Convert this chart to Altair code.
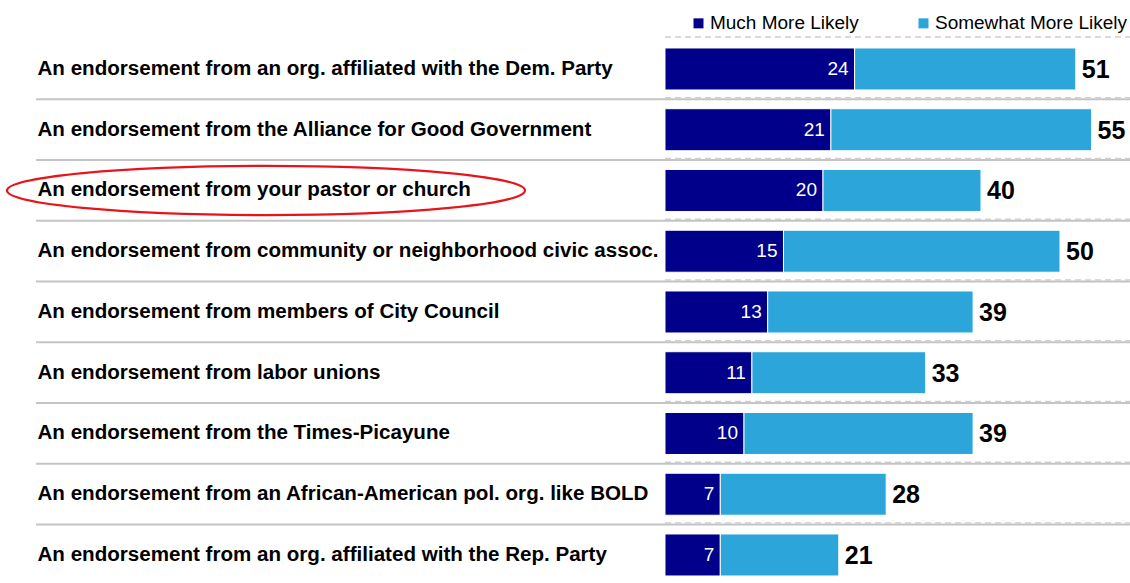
import altair as alt
import pandas as pd

categories = [
    "An endorsement from an org. affiliated with the Dem. Party",
    "An endorsement from the Alliance for Good Government",
    "An endorsement from your pastor or church",
    "An endorsement from community or neighborhood civic assoc.",
    "An endorsement from members of City Council",
    "An endorsement from labor unions",
    "An endorsement from the Times-Picayune",
    "An endorsement from an African-American pol. org. like BOLD",
    "An endorsement from an org. affiliated with the Rep. Party",
]
much = [24, 21, 20, 15, 13, 11, 10, 7, 7]
somewhat = [28, 33, 20, 35, 26, 22, 29, 21, 15]
totals = [51, 55, 40, 50, 39, 33, 39, 28, 21]
series = ["Much More Likely", "Somewhat More Likely"]
colors = ["#00008B", "#2CA5DB"]
highlight = ["An endorsement from your pastor or church"]

rows = []
for c, m, s in zip(categories, much, somewhat):
    rows.append(dict(cat=c, series=series[0], start=0, end=m))
    rows.append(dict(cat=c, series=series[1], start=m, end=m + s))
bars_df = pd.DataFrame(rows)
lab_df = pd.DataFrame(
    dict(
        cat=categories,
        much=much,
        barend=[m + s for m, s in zip(much, somewhat)],
        total=totals,
    )
)
sep_df = lab_df.iloc[:-1]
hl_df = pd.DataFrame(dict(cat=highlight))

W = 465
H = 546.75
STEP = H / len(categories)
PX_PER_UNIT = 7.9
FONT = "Liberation Sans"

yenc = alt.Y(
    "cat:N",
    sort=categories,
    scale=alt.Scale(paddingInner=0, paddingOuter=0),
    axis=alt.Axis(
        title=None,
        domain=False,
        ticks=False,
        grid=False,
        labelAlign="left",
        labelBaseline="middle",
        labelPadding=628,
        labelLimit=700,
        labelFontSize=20.6,
        labelFontWeight="bold",
        labelColor="#000000",
        labelFont=FONT,
    ),
)
xscale = alt.Scale(domain=[0, W / PX_PER_UNIT])

separators = alt.Chart(sep_df).mark_rule(
    color="#C4C4C4", strokeWidth=2, yOffset=STEP / 2
).encode(y=yenc, x=alt.value(-629), x2=alt.value(W))

dashed = alt.Chart(lab_df).mark_rule(
    color="#CFCFCF", strokeWidth=1.5, strokeDash=[6, 4], yOffset=-STEP / 2 - 1.5
).encode(y=yenc, x=alt.value(0), x2=alt.value(W))

bars = alt.Chart(bars_df).mark_bar(size=42, stroke="white", strokeWidth=1).encode(
    y=yenc,
    x=alt.X("start:Q", scale=xscale, axis=None),
    x2="end:Q",
    color=alt.Color(
        "series:N",
        scale=alt.Scale(domain=series, range=colors),
        legend=alt.Legend(
            title=None,
            orient="none",
            legendX=24,
            legendY=-25,
            direction="horizontal",
            symbolType="square",
            symbolSize=100,
            symbolStrokeWidth=0,
            labelFontSize=19,
            labelFont=FONT,
            labelColor="#000000",
            labelOffset=2,
            labelLimit=300,
            columnPadding=55,
        ),
    ),
    order=alt.Order("start:Q"),
)

inner = alt.Chart(lab_df).mark_text(
    align="right", baseline="middle", dx=-6, color="white", fontSize=19, font=FONT
).encode(y=yenc, x=alt.X("much:Q", scale=xscale, axis=None), text="much:Q")

tot = alt.Chart(lab_df).mark_text(
    align="left", baseline="middle", dx=6, dy=1, color="black", fontSize=25,
    fontWeight="bold", font=FONT
).encode(y=yenc, x=alt.X("barend:Q", scale=xscale, axis=None), text="total:Q")

ellipse = alt.Chart(hl_df).mark_point(
    shape="M -1 0 A 1 0.095 0 1 1 1 0 A 1 0.095 0 1 1 -1 0 Z",
    filled=False,
    stroke="#E8141B",
    strokeWidth=2.2,
    size=518 * 518,
    opacity=1,
).encode(y=yenc, x=alt.value(-399))

chart = (
    alt.layer(separators, dashed, bars, inner, tot, ellipse)
    .properties(
        width=W,
        height=H,
        autosize=alt.AutoSizeParams(type="none"),
        padding={"left": 665, "top": 38.6, "right": 0, "bottom": 0},
    )
    .configure(font=FONT)
    .configure_view(strokeWidth=0, stroke="transparent")
    .configure_axis(domain=False, grid=False, ticks=False)
)

chart.save("out.html", embed_options={"renderer": "svg", "actions": False})
